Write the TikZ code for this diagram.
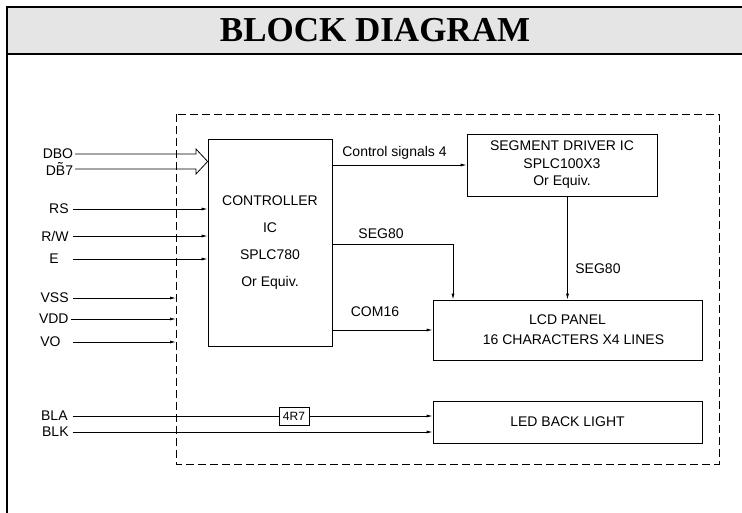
\documentclass[tikz,border=0pt]{standalone}
\usepackage{fontspec}
\setmainfont{Liberation Sans}
\newfontfamily\titlefont{Liberation Serif}
\usetikzlibrary{arrows.meta}

\begin{document}
\begin{tikzpicture}[x=1pt,y=-1pt,
    line width=0.8pt,
    box/.style={draw,align=center,inner sep=0pt},
    sig/.style={-{Latex[length=6pt,width=3pt]}},
    pinlbl/.style={anchor=east,inner xsep=4pt,font=\fontsize{14}{16}\selectfont},
    lbl/.style={font=\fontsize{14}{16}\selectfont,inner sep=0pt}]
  \clip (0,0) rectangle (742,513);
  \fill[black!10] (7,7) rectangle (750,54);
  \draw[line width=2pt] (750,7) -- (7,7) -- (7,520);
  \draw[line width=2pt] (7,54) -- (750,54);
  \node[font=\titlefont\bfseries\fontsize{35}{37}\selectfont] (title) at (375,30) {BLOCK DIAGRAM};

  \draw[dashed,dash pattern=on 8pt off 4pt] (176,114) rectangle (719,464);
  \coordinate (lcm) at (176,289);
  \node[box,minimum width=124,minimum height=207,font=\fontsize{14}{27}\selectfont] (ctrl) at (270,242.5)
    {CONTROLLER\\IC\\SPLC780\\Or Equiv.};
  \node[box,minimum width=190,minimum height=62,font=\fontsize{14}{17.5}\selectfont] (seg) at (562,165)
    {SEGMENT DRIVER IC\\SPLC100X3\\Or Equiv.};
  \node[box,minimum width=269,minimum height=60,font=\fontsize{14}{20}\selectfont] (lcd) at (567.5,330)
    {LCD PANEL\\\hspace{12pt}16 CHARACTERS X4 LINES};
  \node[box,minimum width=269,minimum height=42,font=\fontsize{14}{16}\selectfont] (led) at (567.5,422)
    {LED BACK LIGHT};
  \node[box,minimum width=30,minimum height=18,font=\fontsize{12}{14}\selectfont] (res) at (294,416) {4R7};

  \node[pinlbl,inner xsep=1.5pt] (dbo) at (75,154) {DBO};
  \node[pinlbl,inner xsep=1.5pt] (dbs) at (75,169) {D\~{B}7};
  \node[pinlbl] (rs) at (73,209) {RS};
  \node[pinlbl] (rw) at (73,236) {R/W};
  \node[pinlbl,inner xsep=14pt] (e) at (73,259) {E};
  \node[pinlbl] (vss) at (73,298) {VSS};
  \node[pinlbl,inner xsep=2pt] (vdd) at (71,319) {VDD};
  \node[pinlbl,inner xsep=12pt] (vo) at (73,342) {VO};
  \node[pinlbl,inner xsep=5pt] (bla) at (73,416) {BLA};
  \node[pinlbl] (blk) at (73,432) {BLK};

  \draw (dbo.east) -- (196,154) -- (196,149) -- (ctrl.west |- 0,161.5) -- (196,174) -- (196,169) -- (dbs.east);
  \draw[sig] (rs.east) -- (ctrl.west |- rs.east);
  \draw[sig] (rw.east) -- (ctrl.west |- rw.east);
  \draw[sig] (e.east) -- (ctrl.west |- e.east);
  \draw[sig] (vss.east) -- (lcm |- vss.east);
  \draw[sig] (vdd.east) -- (lcm |- vdd.east);
  \draw[sig] (vo.east) -- (lcm |- vo.east);
  \draw (bla.east) -- (res.west);
  \draw[sig] (res.east) -- (led.west |- res.east);
  \draw[sig] (blk.east) -- (led.west |- blk.east);

  \coordinate (segL) at (453,244);
  \draw[sig] (ctrl.east |- seg.west) -- (seg.west)
    node[lbl] at (394.5,153) {Control signals 4};
  \draw[sig] (ctrl.east |- segL) -| (segL |- lcd.north)
    node[lbl] at (381,234) {SEG80};
  \draw[sig] (ctrl.east |- lcd.west) -- (lcd.west)
    node[lbl] at (375,312) {COM16};
  \draw[sig] (seg.south -| lcd.north) -- (lcd.north)
    node[lbl,anchor=west] at (575,269) {SEG80};
\end{tikzpicture}
\end{document}
